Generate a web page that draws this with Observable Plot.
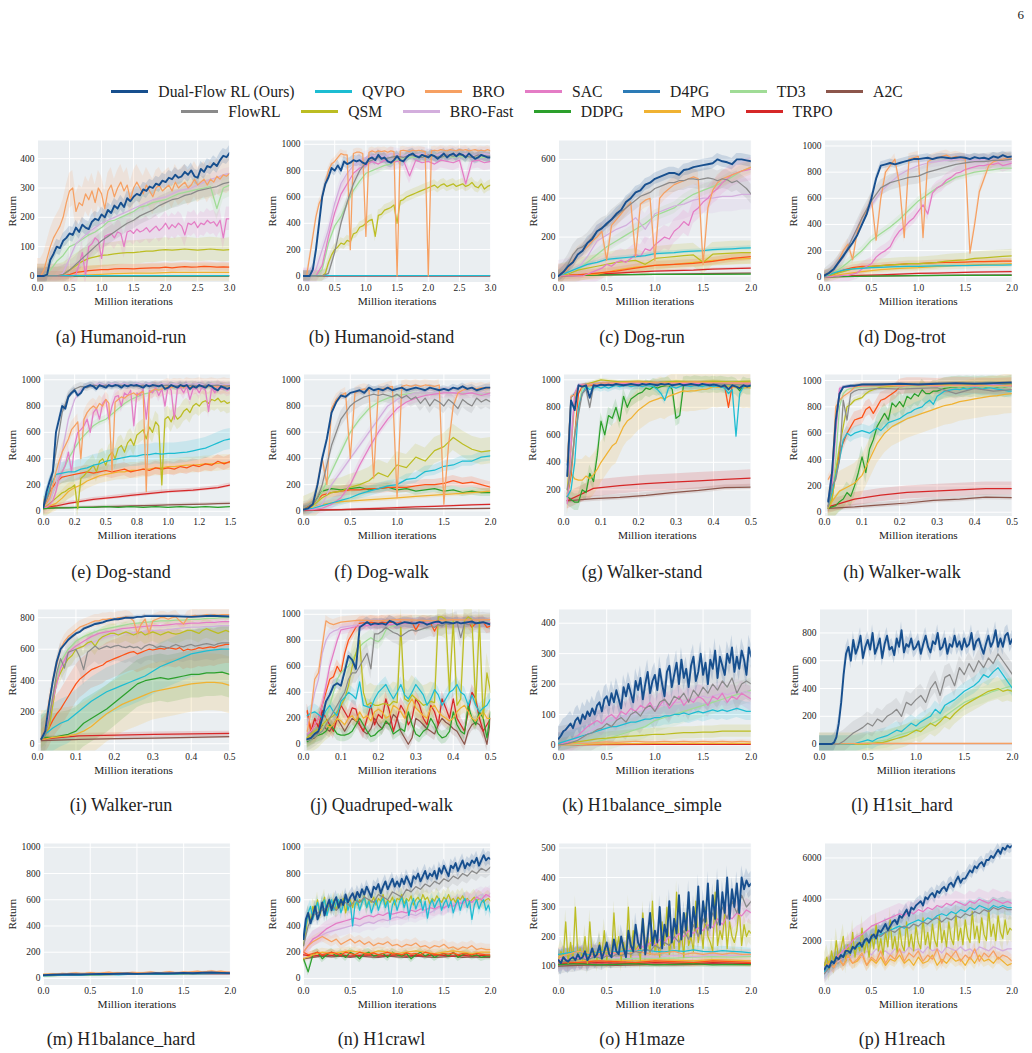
<!DOCTYPE html>
<html>
<head>
<meta charset="utf-8">
<script src="https://cdn.jsdelivr.net/npm/d3@7"></script>
<script src="https://cdn.jsdelivr.net/npm/@observablehq/plot@0.6"></script>
<style>
  body { margin: 0; background: #fff; }
  #page { position: relative; width: 1032px; height: 1053px; overflow: hidden; background: #fff;
          font-family: "Liberation Serif", "Times New Roman", serif; color: #222; }
  .legend-row { position: absolute; left: 0; width: 1014px; display: flex; justify-content: center;
                align-items: center; font-size: 15.7px; line-height: 1; }
  .legend-item { display: flex; align-items: center; margin: 0 10.25px; }
  .swatch { width: 37px; height: 3px; margin-right: 10px; }
  .panel { position: absolute; }
  .caption { position: absolute; font-size: 18px; line-height: 1; white-space: nowrap; transform: translate(-50%, -50%); }
  .pageno { position: absolute; right: 8px; top: 7px; font-size: 13px; }
</style>
</head>
<body>
<div id="page"><div class="pageno">6</div></div>
<script>
// ---- series identity -------------------------------------------------------
const KEYS = ["DF","QVPO","BRO","SAC","D4PG","TD3","A2C","FlowRL","QSM","BROF","DDPG","MPO","TRPO","OR"];
const NAMES = ["Dual-Flow RL (Ours)","QVPO","BRO","SAC","D4PG","TD3","A2C","FlowRL","QSM","BRO-Fast","DDPG","MPO","TRPO"];
const LEGEND_ROW1 = ["DF","QVPO","BRO","SAC","D4PG","TD3","A2C"];
const LEGEND_ROW2 = ["FlowRL","QSM","BROF","DDPG","MPO","TRPO"];

// ---- axis ticks --------------------------------------------------------------
const X_TICKS_3 = [0, 0.5, 1, 1.5, 2, 2.5, 3];
const X_LABELS_3 = ["0.0","0.5","1.0","1.5","2.0","2.5","3.0"];
const X_TICKS_2 = [0, 0.5, 1, 1.5, 2];
const X_LABELS_2 = ["0.0","0.5","1.0","1.5","2.0"];
const X_TICKS_15 = [0, 0.25, 0.5, 0.75, 1, 1.25, 1.5];
const X_LABELS_15 = ["0.0","0.2","0.5","0.8","1.0","1.2","1.5"];
const X_TICKS_05 = [0, 0.1, 0.2, 0.3, 0.4, 0.5];
const X_LABELS_05 = ["0.0","0.1","0.2","0.3","0.4","0.5"];
const Y_TICKS_400 = [0, 100, 200, 300, 400];
const Y_TICKS_600 = [0, 200, 400, 600];
const Y_TICKS_800 = [0, 200, 400, 600, 800];
const Y_TICKS_1000 = [0, 200, 400, 600, 800, 1000];
const Y_TICKS_WS = [200, 400, 600, 800, 1000];
const Y_TICKS_MAZE = [100, 200, 300, 400, 500];
const Y_TICKS_REACH = [2000, 4000, 6000];

// ---- evaluation returns: [series, std, [[xStart, xEnd, evenly spaced returns], ...]] ----
const humanoidRun = [
  ["DF", 25, [[0, 3, [0,0,0,5,55,75,100,95,120,130,145,140,165,150,175,165,160,185,195,190,210,200,225,215,240,230,250,235,265,255,270,280,275,295,290,305,300,315,310,325,320,335,330,345,335,340,355,345,360,340,335,365,355,375,370,385,375,395,410,405,420]]]],
  ["BRO", 60, [[0, 3, [0,0,20,60,100,130,150,170,200,250,290,300,220,250,240,280,260,290,250,300,280,230,290,310,270,300,320,290,310,260,300,320,300,280,310,290,270,300,310,290,300,310,290,320,300,310,320,300,310,330,310,320,330,310,330,320,340,330,345,340,350]]]],
  ["BROF", 20, [[0, 3, [0,0,0,0,10,60,110,130,150,165,180,190,200,210,220,230,240,250,260,265,270,280,290,295,300,310,320,330,335,345,350]]]],
  ["TD3", 40, [[0, 3, [0,0,20,50,70,100,110,125,140,150,165,185,190,200,210,220,235,240,250,255,260,270,280,285,290,295,300,305,230,300,310]]]],
  ["FlowRL", 30, [[0, 3, [0,0,0,0,5,20,40,60,80,100,120,135,150,165,180,190,205,215,225,240,250,260,265,275,280,290,295,300,305,315,320]]]],
  ["SAC", 40, [[0, 3, [0,0,0,0,0,0,0,0,0,0,0,0,5,40,80,0,100,110,130,120,60,135,140,145,130,150,145,100,150,155,145,160,150,155,165,150,160,170,155,165,180,160,175,165,180,170,140,180,175,185,165,180,175,190,180,185,170,190,130,195,195]]]],
  ["QSM", 40, [[0, 3, [0,0,0,0,5,20,35,50,60,65,70,72,75,78,80,80,82,85,85,88,90,88,90,92,90,88,90,92,90,88,90]]]],
  ["OR", 15, [[0, 3, [0,0,0,0,0,5,12,15,18,20,22,22,24,25,25,24,26,27,28,28,30,28,30,32,30,31,33,32,30,31,30]]]],
  ["MPO", 30, [[0, 3, [0,0,2,5,8,10,10,12,12,12,12]]]],
  ["TRPO", 0, [[0, 3, [0,0]]]],
  ["A2C", 0, [[0, 3, [0,0]]]],
  ["DDPG", 0, [[0, 3, [0,0]]]],
  ["QVPO", 0, [[0, 3, [1,1]]]]
];

const humanoidStand = [
  ["BRO", 30, [[0, 3, [0,0,150,300,450,550,600,700,800,850,870,900,930,920,920,200,930,940,940,930,300,940,950,940,950,945,950,940,950,945,0,950,955,950,945,955,950,955,950,945,0,950,955,950,960,955,950,960,955,950,960,955,960,950,955,960,950,955,950,960,950]]]],
  ["DF", 40, [[0, 3, [0,0,0,50,200,400,600,700,750,820,800,840,800,870,850,860,880,870,880,860,850,890,900,880,920,890,900,870,860,880,910,880,870,900,920,930,910,900,920,910,900,920,910,890,910,930,900,920,930,910,930,920,900,930,910,890,900,920,910,900,900]]]],
  ["BROF", 50, [[0, 3, [0,0,50,200,350,550,700,780,840,880,900,910,920,900,930,920,910,930,920,930,920,910,930,920,930,920,930,910,920,930,920]]]],
  ["SAC", 60, [[0, 3, [0,0,0,80,300,480,620,700,780,820,840,870,850,880,860,870,880,760,880,860,870,850,880,870,860,880,700,870,880,860,870]]]],
  ["FlowRL", 40, [[0, 3, [0,0,0,0,20,180,400,560,700,800,860,880,900,890,900,910,900,920,910,900,920,910,900,920,910,920,910,900,920,910,910]]]],
  ["TD3", 40, [[0, 3, [0,0,0,50,250,380,450,550,650,720,780,800,820,840,850,880,890,900,900,910,900,910,900,910,900,910,900,910,900,900,900]]]],
  ["QSM", 40, [[0, 3, [0,0,0,0,0,0,0,20,100,160,200,220,250,240,270,260,320,330,370,380,400,420,430,300,460,470,500,510,520,540,400,570,580,600,610,620,630,640,650,660,670,680,690,670,690,700,680,690,700,680,690,700,680,690,710,680,670,700,660,680,690]]]],
  ["A2C", 0, [[0, 3, [0,0]]]],
  ["TRPO", 0, [[0, 3, [0,0]]]],
  ["QVPO", 0, [[0, 3, [2,2]]]]
];

const dogRun = [
  ["DF", 30, [[0, 2, [0,20,50,70,110,130,170,190,230,245,270,290,320,340,380,400,430,440,470,480,500,510,520,530,530,520,545,550,560,565,570,575,580,600,590,585,575,600,600,595,590]]]],
  ["FlowRL", 50, [[0, 2, [0,20,60,110,140,150,170,200,230,250,260,290,310,330,350,370,390,410,420,430,450,460,470,480,480,490,490,500,500,495,500,505,500,490,500,495,480,490,470,450,420]]]],
  ["BRO", 40, [[0, 2, [0,15,40,80,110,130,150,180,200,230,80,260,290,320,350,380,100,370,390,400,80,400,430,450,470,480,490,500,510,500,60,350,440,480,500,510,520,530,540,550,560]]]],
  ["TD3", 30, [[0, 2, [0,10,30,70,110,150,180,210,240,270,310,330,350,390,420,440,460,480,510,540,560]]]],
  ["BROF", 80, [[0, 2, [0,10,40,100,180,210,240,260,300,240,320,340,360,370,390,400,400,410,410,420,420]]]],
  ["SAC", 60, [[0, 2, [0,0,0,0,0,0,10,20,30,40,60,50,70,80,70,90,110,100,140,130,160,180,200,190,230,250,280,260,330,350,380,400,430,450,480,500,520,530,540,545,550]]]],
  ["QVPO", 10, [[0, 2, [0,20,40,60,70,85,90,95,100,105,115,118,120,125,128,130,135,138,140,143,145]]]],
  ["QSM", 60, [[0, 2, [0,10,30,40,50,60,70,75,80,60,90,95,100,105,108,70,112,115,118,120,120]]]],
  ["MPO", 30, [[0, 2, [0,5,10,30,45,55,60,70,80,85,90]]]],
  ["OR", 20, [[0, 2, [0,5,15,25,40,55,60,65,75,90,100]]]],
  ["TRPO", 5, [[0, 2, [0,5,10,15,20,25,28,30,35,38,40]]]],
  ["A2C", 3, [[0, 2, [0,5,8,12,15]]]],
  ["DDPG", 3, [[0, 2, [0,5,8,8,10]]]]
];

const dogTrot = [
  ["DF", 30, [[0, 2, [10,30,60,110,160,210,260,320,400,480,600,750,850,860,870,860,870,880,890,900,900,905,910,900,910,915,910,905,910,915,910,900,915,905,910,900,920,910,930,915,920]]]],
  ["BRO", 40, [[0, 2, [10,20,60,120,200,250,130,350,450,500,600,280,600,800,850,900,700,300,900,910,920,300,880,900,910,920,930,910,920,910,900,180,400,650,750,850,880,890,900,910,900]]]],
  ["BROF", 40, [[0, 2, [0,60,150,300,450,550,650,720,780,820,850,870,880,890,900,900,890,900,890,880,880]]]],
  ["FlowRL", 60, [[0, 2, [0,60,150,300,450,580,680,720,740,760,770,800,820,840,860,870,880,880,890,890,900]]]],
  ["TD3", 30, [[0, 2, [0,30,80,140,200,280,330,380,440,510,580,630,680,720,760,780,800,810,820,830,830]]]],
  ["SAC", 50, [[0, 2, [0,0,5,5,10,10,20,30,60,80,100,150,180,200,230,300,350,380,420,450,500,550,480,640,680,700,740,760,790,800,820,830,840,850,850,860,860,870,850,860,870]]]],
  ["OR", 20, [[0, 2, [0,20,50,70,80,80,85,90,95,100,100,105,108,110,110,112,115,115,118,120,120]]]],
  ["QSM", 50, [[0, 2, [0,20,40,60,70,80,85,90,95,100,100,105,110,120,125,130,140,145,150,155,160]]]],
  ["QVPO", 10, [[0, 2, [0,30,50,60,65,70,72,75,78,80,80,82,83,84,85,86,87,88,88,89,90]]]],
  ["MPO", 30, [[0, 2, [0,20,40,55,65,70,80,85,90,95,100]]]],
  ["TRPO", 5, [[0, 2, [0,5,10,15,20,25,28,32,35,38,40]]]],
  ["A2C", 3, [[0, 2, [0,5,8,12,15]]]],
  ["DDPG", 3, [[0, 2, [0,5,8,10,10]]]]
];

const dogStand = [
  ["DF", 25, [[0, 1.5, [30,150,230,300,600,700,800,780,870,900,920,880,900,940,950,960,950,930,960,950,940,960,950,960,955,940,960,950,960,955,960,950,940,960,950,960,955,950,960,930,940,960,950,940,960,950,960,930,950,940,960,950,940,960,950,930,920,950,940,930,940]]]],
  ["FlowRL", 30, [[0, 1.5, [30,150,450,750,880,930,950,940,960,950,960,950,960,955,960,950,960,950,960,955,960,950,960,955,960,950,960,955,960,950,955]]]],
  ["BROF", 20, [[0, 1.5, [30,80,200,450,700,850,920,950,960,970,960,970,965,970,960,970,965,970,960,970,965,970,960,970,965,970,960,970,965,960,965]]]],
  ["BRO", 60, [[0, 1.5, [30,60,100,200,300,380,450,500,550,620,650,680,400,700,750,780,800,780,820,800,850,820,300,830,850,870,860,880,890,900,880,900,910,150,900,920,930,920,930,940,950,940,950,945,950,940,955,950,945,950,955,950,945,950,955,950,945,950,955,950,950]]]],
  ["SAC", 50, [[0, 1.5, [30,30,50,80,150,250,300,350,450,300,500,600,620,650,700,600,750,780,700,820,850,700,800,870,880,800,900,880,920,650,900,880,930,700,920,900,940,880,930,800,950,920,700,930,940,900,950,850,930,940,900,950,920,760,940,900,950,930,940,920,930]]]],
  ["TD3", 30, [[0, 1.5, [30,80,200,300,400,480,550,600,650,680,700,740,780,820,850,870,890,900,920,930,950,950,945,950,955,950,945,950,955,950,950]]]],
  ["QSM", 80, [[0, 1.5, [30,40,60,80,100,120,140,150,170,180,200,20,250,270,300,320,350,300,380,400,350,420,450,400,480,500,450,520,550,500,580,600,620,550,640,600,680,650,200,700,720,680,740,700,720,760,780,750,800,820,800,830,840,820,850,840,860,830,840,820,830]]]],
  ["QVPO", 80, [[0, 1.5, [30,180,280,290,300,300,320,330,350,360,380,390,400,410,420,420,430,430,440,435,440,440,445,450,460,470,480,500,520,540,550]]]],
  ["OR", 50, [[0, 1.5, [30,150,220,260,270,280,290,300,290,300,310,300,310,320,300,310,320,310,330,320,330,320,340,330,350,340,360,350,380,360,380]]]],
  ["MPO", 60, [[0, 1.5, [30,40,60,100,150,180,200,230,250,270,280,290,300,300,310,310,320,320,330,330,340,340,345,350,350,355,360,360,365,370,370]]]],
  ["TRPO", 15, [[0, 1.5, [30,40,60,75,90,100,110,120,130,140,150,155,160,170,180,200]]]],
  ["A2C", 10, [[0, 1.5, [20,25,28,30,32,35,38,40,42,45,48,50,52,55,58,60]]]],
  ["DDPG", 5, [[0, 1.5, [20,25,25,30,30,35,30,35,30,35,30,35,30,35,30,35]]]]
];

const dogWalk = [
  ["DF", 25, [[0, 2, [10,20,50,200,400,550,750,830,880,870,900,910,920,900,940,920,930,920,940,920,930,940,920,930,940,930,920,940,930,920,930,920,940,930,950,930,940,920,930,940,940]]]],
  ["BRO", 40, [[0, 2, [10,20,50,200,400,200,780,850,880,900,400,900,920,930,920,250,920,930,940,950,100,950,960,950,960,950,960,955,950,960,50,500,800,900,920,930,940,930,940,930,940]]]],
  ["FlowRL", 60, [[0, 2, [10,20,50,100,200,350,500,600,700,750,800,830,850,870,880,890,880,890,880,870,890,860,880,850,870,820,860,800,850,830,800,850,820,780,850,820,800,860,830,850,830]]]],
  ["TD3", 30, [[0, 2, [10,20,150,300,450,600,700,780,830,860,880,890,900,900,900,910,900,900,900,890,900]]]],
  ["BROF", 30, [[0, 2, [10,20,50,200,300,400,500,600,700,800,850,880,900,900,900,910,900,910,900,900,880]]]],
  ["SAC", 40, [[0, 2, [10,10,20,50,100,200,350,480,600,700,780,830,860,880,890,900,900,890,900,880,900]]]],
  ["QSM", 100, [[0, 2, [10,40,100,140,150,180,200,230,290,260,350,330,410,380,460,490,560,510,470,450,460]]]],
  ["QVPO", 40, [[0, 2, [10,20,40,60,80,100,130,150,170,190,200,240,250,300,310,340,350,380,380,410,420]]]],
  ["OR", 40, [[0, 2, [10,50,120,140,150,160,160,170,170,180,180,180,190,200,200,210,230,210,220,200,180]]]],
  ["DDPG", 30, [[0, 2, [10,50,150,170,160,170,180,160,170,180,160,170,150,160,170,150,160,140,150,140,140]]]],
  ["MPO", 20, [[0, 2, [10,50,70,80,90,100,110,120,130,140,150]]]],
  ["TRPO", 5, [[0, 2, [5,8,10,15,20,25,30,35,40,45,50]]]],
  ["A2C", 3, [[0, 2, [5,6,8,10,12,14,15,16,17,18,20]]]]
];

const walkerStand = [
  ["DF", 15, [[0.01, 0.5, [300,850,780,960,950,960,870,960,955,965,960,965,960,970,965,960,965,970,965,960,970,965,970,965,960,970,965,970,960,965,970,960,965,970,965,960,970,965,960,965,960,950,960,930,960,950,940,960,950,960]]]],
  ["D4PG", 10, [[0.01, 0.05, [380,870,900,950,960]], [0.1, 0.5, [970,975,970,965,975,970,965,970,975]]]],
  ["BRO", 10, [[0.01, 0.05, [400,880,890,950,960]], [0.1, 0.5, [975,980,985,975,980,985,980,975,980]]]],
  ["OR", 20, [[0.01, 0.05, [150,300,600,900,950]], [0.1, 0.42, [965,970,960,970,965,960,970,965,960]], [0.43, 0.5, [950,800,960,965,970,960,965,960]]]],
  ["SAC", 10, [[0.01, 0.05, [100,500,900,960,965]], [0.1, 0.5, [970,975,970,975,970,975,970,975,970]]]],
  ["QSM", 10, [[0.01, 0.05, [200,500,850,950,960]], [0.1, 0.5, [1000,985,990,980,990,985,990,985,990]]]],
  ["TD3", 10, [[0.01, 0.05, [150,350,600,800,940]], [0.1, 0.5, [960,965,960,965,960,965,960,965,960]]]],
  ["FlowRL", 30, [[0.01, 0.1, [200,350,600,750,900,930,800,950,960,960]], [0.15, 0.5, [965,960,970,965,960,970,965,960]]]],
  ["BROF", 10, [[0.01, 0.05, [300,600,900,950,960]], [0.1, 0.5, [970,975,970,975,970,975,970,975,970]]]],
  ["QVPO", 30, [[0.01, 0.5, [150,200,400,800,900,950,930,940,950,940,950,940,950,960,950,955,960,950,955,960,950,960,955,950,930,900,850,940,950,940,950,960,955,950,960,955,950,960,955,950,955,950,940,900,930,590,900,950,955,960]]]],
  ["DDPG", 60, [[0.01, 0.5, [150,130,110,110,200,180,320,260,450,700,600,740,720,800,700,880,800,860,880,900,910,940,930,950,940,950,955,960,930,720,740,960,965,960,970,965,960,965,960,965,960,965,960,955,960,950,920,960,950,950]]]],
  ["MPO", 150, [[0.01, 0.5, [170,320,280,270,270,300,280,310,350,400,440,480,520,540,600,660,700,720,750,780,800,820,840,850,860,870,860,880,890,900,910,920,915,920,920,925,930,930,940,950,945,950,950,955,950,945,950,940,945,940]]]],
  ["TRPO", 60, [[0.01, 0.5, [120,210,230,245,255,265,275,285]]]],
  ["A2C", 20, [[0.01, 0.5, [120,135,145,160,180,195,215,220]]]]
];

const walkerWalk = [
  ["DF", 10, [[0.01, 0.1, [80,300,700,900,950,955,960,960,965,970]], [0.15, 0.5, [970,975,970,975,980,975,980,985]]]],
  ["BRO", 30, [[0.01, 0.1, [250,300,800,850,880,900,920,950,955,960]], [0.15, 0.5, [960,965,960,965,960,965,960,965]]]],
  ["SAC", 10, [[0.01, 0.05, [50,200,600,940,950]], [0.1, 0.5, [960,965,960,965,960,965,960,965,960]]]],
  ["D4PG", 10, [[0.01, 0.05, [90,250,650,900,950]], [0.1, 0.5, [965,970,965,970,965,970,965,970,975]]]],
  ["FlowRL", 40, [[0.01, 0.1, [40,200,250,400,850,700,900,920,930,930]], [0.15, 0.5, [940,935,940,945,900,940,920,930]]]],
  ["QSM", 20, [[0.01, 0.15, [40,100,300,500,650,800,820,850,860,870,900,920,930,940,950]], [0.2, 0.5, [960,970,965,975,970,980,975]]]],
  ["TD3", 20, [[0.01, 0.07, [40,100,400,800,900,930,940]], [0.1, 0.5, [950,955,950,955,950,955,950,955,950]]]],
  ["BROF", 10, [[0.01, 0.05, [100,300,700,930,950]], [0.1, 0.5, [960,965,960,965,960,965,960,965,960]]]],
  ["OR", 60, [[0.01, 0.22, [50,100,300,450,530,600,650,700,710,720,780,800,750,800,850,860,880,900,920,950,955,960]], [0.25, 0.5, [960,955,965,960,955,960]]]],
  ["QVPO", 50, [[0.01, 0.5, [50,150,280,400,550,600,580,600,610,620,610,600,620,640,620,650,680,690,700,710,730,750,760,780,790,800,830,850,820,880,900,920,925,930,935,930,940,935,940,945,940,935,940,945,940,935,930,925,920,920]]]],
  ["DDPG", 80, [[0.01, 0.5, [30,40,50,80,100,150,120,200,300,420,300,480,550,650,700,750,700,830,800,840,800,880,860,900,880,930,900,900,920,920,930,940,945,950,950,955,950,955,950,955,950,955,950,955,955,950,955,950,955,960]]]],
  ["MPO", 150, [[0.01, 0.01, [30]], [0.02, 0.5, [80,160,190,220,280,400,520,600,650,680,710,730,750,770,790,810,820,840,850,860,870,880,885,895,900]]]],
  ["TRPO", 50, [[0.01, 0.5, [40,100,130,150,160,170,180,180]]]],
  ["A2C", 20, [[0.01, 0.5, [30,40,55,70,90,100,115,110]]]]
];

const walkerRun = [
  ["DF", 10, [[0.01, 0.3, [30,80,250,400,520,600,630,660,680,700,710,730,740,750,760,765,770,780,785,790,790,795,800,800,800,805,805,810,810,810]], [0.35, 0.5, [810,805,812,808]]]],
  ["BRO", 40, [[0.01, 0.5, [30,100,270,400,500,600,650,680,700,720,740,750,760,770,780,780,790,790,795,790,800,800,805,800,780,700,760,790,700,780,790,800,800,790,800,805,780,760,800,810,815,810,815,820,815,820,815,820,820,820]]]],
  ["TD3", 20, [[0.01, 0.01, [30]], [0.02, 0.5, [60,300,520,600,650,680,700,720,730,740,750,760,765,770,775,780,780,785,785,790,790,795,795,800,800]]]],
  ["SAC", 20, [[0.01, 0.01, [30]], [0.02, 0.5, [60,280,480,580,620,650,680,700,710,720,730,735,740,745,750,750,755,760,760,765,765,770,770,775,775]]]],
  ["BROF", 20, [[0.01, 0.01, [30]], [0.02, 0.5, [60,280,480,560,600,620,640,660,680,690,700,700,710,715,720,720,725,730,735,740,740,745,745,750,750]]]],
  ["QSM", 60, [[0.01, 0.5, [30,50,100,250,400,450,500,540,560,600,610,620,640,650,620,660,680,690,700,700,690,700,710,700,690,700,710,690,700,710,700,690,700,710,700,695,700,710,720,720,710,700,720,730,720,710,700,710,720,710]]]],
  ["FlowRL", 100, [[0.01, 0.5, [30,50,150,300,450,540,480,580,590,600,550,470,580,600,620,600,610,620,610,620,625,615,610,620,610,615,600,620,630,625,610,620,615,605,620,630,620,615,625,630,620,625,630,635,630,625,635,640,640,640]]]],
  ["OR", 120, [[0.01, 0.5, [30,60,100,150,190,220,260,300,340,380,410,430,450,470,480,490,500,520,530,540,550,560,570,580,585,570,580,590,600,595,600,605,600,610,605,600,610,590,600,595,600,610,605,610,615,610,620,625,630,630]]]],
  ["QVPO", 150, [[0.01, 0.01, [30]], [0.02, 0.5, [60,100,130,150,190,230,270,300,330,350,370,390,410,430,460,490,510,530,550,570,580,590,595,600,600]]]],
  ["DDPG", 150, [[0.01, 0.01, [30]], [0.02, 0.5, [40,40,50,60,80,130,160,190,220,260,300,340,380,400,410,420,410,420,430,440,440,450,450,455,440]]]],
  ["MPO", 180, [[0.01, 0.01, [30]], [0.02, 0.5, [30,40,45,50,60,80,110,150,190,220,250,270,290,310,330,340,350,360,370,380,385,390,390,385,370]]]],
  ["TRPO", 15, [[0.01, 0.5, [30,50,55,60,62,65]]]],
  ["A2C", 10, [[0.01, 0.5, [20,28,32,36,40,45]]]]
];

const quadrupedWalk = [
  ["BRO", 40, [[0.01, 0.08, [100,250,500,550,750,950,930,920]], [0.1, 0.5, [940,955,950,960,955,950,960,955,960]]]],
  ["BROF", 40, [[0.01, 0.1, [150,250,400,500,700,800,850,870,880,900]], [0.15, 0.5, [920,925,930,935,930,935,940,935]]]],
  ["SAC", 40, [[0.01, 0.1, [80,100,150,200,300,450,600,700,800,880]], [0.15, 0.5, [910,920,925,930,935,930,935,935]]]],
  ["TD3", 60, [[0.01, 0.25, [30,40,60,80,100,200,300,400,500,550,580,600,650,700,750,780,800,820,800,790,820,880,900,910,920]], [0.3, 0.5, [930,935,940,935,940]]]],
  ["OR", 50, [[0.01, 0.5, [260,100,150,200,300,400,500,520,600,550,700,800,850,900,930,935,930,940,935,930,940,935,940,930,935,940,930,935,940,880,930,940,935,930,870,930,935,940,930,935,940,935,930,940,900,930,935,940,900,910]]]],
  ["DF", 40, [[0.01, 0.5, [40,50,80,100,200,330,380,450,470,450,560,680,650,580,900,920,940,920,930,925,930,920,950,940,920,930,940,935,930,930,940,935,920,930,940,945,930,940,935,930,940,930,935,940,945,930,935,940,930,920]]]],
  ["FlowRL", 80, [[0.01, 0.5, [30,40,60,80,100,150,200,250,300,350,400,500,550,550,600,650,700,580,850,850,870,900,880,860,850,830,850,870,880,870,880,890,900,910,900,920,910,930,920,930,940,820,930,920,930,940,930,935,930,930]]]],
  ["QSM", 150, [[0.01, 0.5, [50,80,100,120,150,180,200,220,250,300,350,450,600,700,800,400,300,320,300,300,310,310,300,330,320,900,350,330,380,350,330,300,310,330,320,980,980,960,400,950,300,350,950,980,960,300,950,200,550,400]]]],
  ["QVPO", 60, [[0.01, 0.5, [220,240,250,230,200,260,300,250,220,330,360,400,380,350,480,300,290,280,350,400,430,460,400,350,400,460,380,350,400,460,420,380,300,350,420,380,300,350,400,420,460,400,380,300,380,300,250,280,300,350]]]],
  ["TRPO", 60, [[0.01, 0.5, [250,100,200,130,260,200,150,100,200,300,250,200,280,270,150,100,200,300,150,230,200,350,250,100,200,300,250,150,200,350,300,200,150,300,250,150,350,280,200,350,200,150,100,250,400,350,200,100,150,200]]]],
  ["A2C", 50, [[0.01, 0.5, [30,40,50,100,150,120,100,150,200,150,100,150,200,180,150,100,80,120,200,150,120,170,150,230,200,100,50,0,50,200,180,150,120,100,80,150,200,170,150,120,100,50,0,100,150,170,150,100,0,200]]]],
  ["DDPG", 50, [[0.01, 0.5, [20,40,60,70,80,100,150,120,80,70,70,80,100,150,200,150,100,60,70,100,120,180,150,80,100,120,100,250,150,80,60,100,120,200,150,80,50,60,100,250,150,100,80,300,200,150,250,200,50,250]]]],
  ["MPO", 60, [[0.01, 0.5, [50,60,80,100,120,150,130,150,200,180,150,200,220,180,250,200,220,180,250,270,250,200,220,300,280,250,200,300,350,280,250,220,200,280,300,250,220,200,180,200,250,280,300,250,200,180,220,250,200,200]]]]
];

const h1BalanceSimple = [
  ["DF", 40, [[0, 2, [20,30,45,50,60,70,55,80,90,70,100,85,110,95,120,100,130,140,110,150,160,130,170,140,180,150,120,190,160,200,170,140,210,180,220,150,200,240,170,210,230,180,250,200,160,240,260,190,230,270,200,280,220,250,190,260,290,210,240,300,230,270,200,280,250,310,220,290,260,230,300,270,320,240,290,250,310,280,230,320,290]]]],
  ["FlowRL", 60, [[0, 2, [0,2,5,10,15,25,35,40,50,55,70,60,80,90,75,100,110,95,120,130,110,140,150,130,160,150,170,140,180,160,190,170,200,180,210,190,220,170,200,210,200]]]],
  ["SAC", 40, [[0, 2, [0,5,10,20,30,45,60,70,80,70,90,100,85,110,100,120,110,130,120,140,110,130,150,120,140,160,130,150,140,160,150,130,160,150,170,140,160,150,170,160,150]]]],
  ["QVPO", 30, [[0, 2, [5,10,15,20,25,30,35,40,45,50,55,60,60,65,70,75,75,80,85,85,90,90,95,95,100,100,105,100,105,110,105,110,115,110,115,110,115,120,115,110,110]]]],
  ["BROF", 40, [[0, 2, [0,2,5,10,20,30,40,50,60,70,75,80,85,90,95,100,105,110,115,120,125,130,130,135,140,140,145,150,150,155,160,155,160,165,170,165,170,175,170,175,170]]]],
  ["QSM", 20, [[0, 2, [0,5,10,15,20,22,25,28,30,32,35,35,38,40,40,42,42,45,45,45,45]]]],
  ["TD3", 40, [[0, 2, [0,0,2,5,10,20,30,40,50,60,80,90,100,110,120,130,140,150,160,170,180]]]],
  ["BRO", 5, [[0, 2, [0,2,5,5,8,10,8,10,12,10,10,12,10,12,10,12,10,12,10,12,10]]]],
  ["MPO", 3, [[0, 2, [0,3,5,5,5]]]],
  ["TRPO", 1, [[0, 2, [0,1,2,2,2]]]]
];

const h1SitHard = [
  ["DF", 60, [[0, 2, [0,0,0,0,0,0,10,50,150,300,500,650,700,600,750,650,700,780,620,700,750,680,800,650,700,760,620,720,780,680,700,640,760,700,820,660,720,700,760,680,700,740,650,720,780,700,660,740,720,800,680,700,760,650,720,700,780,700,740,680,760,700,720,800,680,740,760,700,650,720,780,700,740,820,700,760,700,780,800,720,760]]]],
  ["FlowRL", 80, [[0, 2, [0,0,0,0,0,20,50,80,100,120,150,130,180,160,200,220,250,200,300,280,320,350,300,400,450,350,480,500,420,550,500,580,520,600,550,620,580,650,600,550,500]]]],
  ["QVPO", 60, [[0, 2, [0,0,0,0,0,0,0,0,10,20,30,20,40,50,60,80,100,90,120,150,130,160,180,200,250,220,280,300,320,350,380,400,420,450,500,480,520,550,500,450,400]]]],
  ["QSM", 80, [[0, 2, [0,0,0,0,0,0,0,0,0,0,0,5,10,10,20,30,40,50,60,80,100,90,120,150,130,160,200,180,220,250,280,300,320,340,360,380,390,400,380,390,380]]]],
  ["TD3", 60, [[0, 2, [0,0,0,0,0,10,20,30,60,80,100,130,160,200,250,300,330,350,380,400,420]]]],
  ["BRO", 3, [[0, 2, [0,5,5,5,5]]]],
  ["A2C", 0, [[0, 2, [3,3]]]]
];

const h1BalanceHard = [
  ["BRO", 5, [[0, 2, [30,32,35,33,38,36,40,42,38,40,45,42,40,44,48,42,45,40,43,47,45,42,46,50,45,43,48,52,47,45,50,48,52,55,50,53,58,52,55,50,48]]]],
  ["DF", 5, [[0, 2, [25,28,30,32,30,33,35,34,36,38,35,37,40,38,40,42,40,43,45,42,40]]]],
  ["FlowRL", 5, [[0, 2, [25,27,30,28,32,30,33,35,33,35,37,35,38,40,37,40,42,40,42,45,42]]]],
  ["QVPO", 5, [[0, 2, [20,22,25,24,26,28,27,30,28,30,32,30,33,35,32,34,36,35,37,38,36]]]],
  ["SAC", 5, [[0, 2, [22,25,28,30,28,32,35,33,36,38,35,38,40,38,42,44,40,43,45,47,45]]]],
  ["QSM", 5, [[0, 2, [20,24,26,28,30,32,33,35,36,38,40]]]],
  ["MPO", 5, [[0, 2, [30,32,35,36,38,40,42,43,44,45,45]]]],
  ["TRPO", 3, [[0, 2, [25,26,28,29,30,31,32,33,34,35,35]]]],
  ["BROF", 5, [[0, 2, [25,28,30,32,34,36,38,40,42,44,45]]]]
];

const h1Crawl = [
  ["DF", 50, [[0, 2, [300,450,500,420,480,550,450,500,580,480,550,600,520,580,620,540,600,560,640,580,620,650,600,660,620,680,640,700,660,620,700,680,720,650,700,740,680,720,760,700,740,700,760,720,780,740,700,780,760,800,740,780,820,760,800,780,820,760,840,800,860,820,780,860,840,880,820,860,900,840,880,860,900,880,920,860,900,940,900,920,910]]]],
  ["FlowRL", 60, [[0, 2, [250,400,480,500,520,540,560,520,560,580,550,600,580,620,600,580,640,620,600,660,640,620,680,660,700,680,720,700,740,720,760,740,780,760,800,780,820,800,840,820,850]]]],
  ["QVPO", 50, [[0, 2, [300,400,500,550,450,520,580,500,560,600,480,550,600,520,580,600,500,560,620,520,580,400,560,600,520,580,620,540,590,500,560,600,520,580,610,540,590,450,560,600,520,580,620,540,600,480,560,610,530,580,600,520,590,460,560,600,540,580,610,520,570,600,540,590,500,560,600,520,580,610,540,590,450,560,600,530,580,600,520,560,500]]]],
  ["QSM", 60, [[0, 2, [250,350,500,450,550,520,600,480,560,620,500,580,540,600,520,590,560,610,500,580,600,540,620,560,600,580,630,540,600,580,620,560,610,590,640,560,600,580,620,560,610,600,640,570,610,590,630,560,600,620,580,640,600,620,570,610,590,630,600,580,620,600,640,590,610,580,620,600,630,590,610,580,600,620,590,610,600,580,600,610,590]]]],
  ["SAC", 60, [[0, 2, [200,250,300,320,350,380,400,420,430,440,450,460,450,470,480,470,490,480,500,490,500,510,500,520,510,530,520,540,530,550,540,560,550,580,570,600,580,620,600,640,620]]]],
  ["BROF", 60, [[0, 2, [200,250,300,320,330,350,360,370,380,390,400,410,400,420,430,420,440,450,440,460,470,460,480,490,480,500,510,500,520,540,530,560,570,560,590,600,580,620,640,620,650]]]],
  ["BRO", 40, [[0, 2, [200,250,280,300,320,300,280,300,260,280,300,270,290,260,280,250,270,260,280,250,260,240,260,250,270,240,250,230,250,240,260,230,240,220,240,230,250,220,230,220,220]]]],
  ["OR", 20, [[0, 2, [200,180,190,200,180,190,200,190,180,200,190,180,200,190,185,195,180,190,200,185,190,180,195,185,190,180,200,190,185,180,190,185,195,180,190,185,180,190,185,180,180]]]],
  ["TRPO", 10, [[0, 2, [180,170,180,175,180,170,175,180,170,175,180,170,175,170,180,175,170,175,170,175,170]]]],
  ["DDPG", 30, [[0, 2, [150,50,180,200,150,180,200,170,190,160,200,180,150,190,200,170,180,190,160,200,180,170,190,150,180,200,170,190,160,180,190,170,200,160,180,190,170,180,160,170,170]]]],
  ["MPO", 30, [[0, 2, [150,180,200,190,200,210,200,190,210,200,190,200,210,200,190,200,210,200,190,200,200]]]],
  ["A2C", 10, [[0, 2, [150,160,170,165,170,160,170,165,160,170,165,160,170,165,160,165,170,160,165,160,160]]]]
];

const h1Maze = [
  ["DF", 40, [[0, 2, [120,110,130,120,115,125,130,120,140,125,130,150,120,135,160,130,140,170,125,150,180,140,130,190,150,140,200,160,130,220,170,150,240,180,160,260,140,200,280,170,220,180,300,160,240,200,320,180,260,210,340,190,280,220,350,200,300,230,370,210,320,250,380,230,340,260,390,240,350,280,400,260,360,300,380,280,400,360,390,370,380]]]],
  ["QSM", 40, [[0, 2, [120,150,130,250,110,180,120,300,140,160,120,200,110,250,130,150,120,180,140,220,120,160,130,280,150,200,120,180,140,300,130,220,150,170,120,280,160,200,140,320,150,180,130,250,170,300,140,200,160,350,150,220,130,280,170,200,150,320,180,240,160,300,200,180,150,350,170,220,190,280,160,250,200,180,220,300,170,240,200,220,210]]]],
  ["FlowRL", 40, [[0, 2, [110,115,120,118,122,125,120,128,130,125,135,130,140,135,145,140,150,145,160,150,170,160,180,170,200,180,220,190,240,200,260,220,280,240,300,260,320,280,340,300,320]]]],
  ["SAC", 40, [[0, 2, [120,125,120,130,125,130,128,135,130,140,135,145,140,150,145,160,150,170,160,180,170,190,180,200,190,210,200,220,210,230,220,240,230,260,240,270,260,280,270,290,280]]]],
  ["QVPO", 15, [[0, 2, [140,145,150,140,145,150,148,152,150,155,150,148,152,150,155,150,148,152,150,148,145]]]],
  ["BRO", 15, [[0, 2, [130,140,150,145,140,150,145,140,150,145,140,145,150,140,145,140,145,140,145,140,140]]]],
  ["BROF", 15, [[0, 2, [125,128,130,128,132,130,135,132,138,135,140]]]],
  ["MPO", 20, [[0, 2, [120,118,122,120,118,122,120,118,122,120,118]]]],
  ["OR", 10, [[0, 2, [115,112,118,115,112,118,115,112,118,115,112]]]],
  ["TRPO", 10, [[0, 2, [110,108,112,110,108,112,110,108,112,110,108]]]],
  ["DDPG", 10, [[0, 2, [105,108,104,106,108,104,106,108,104,106,105]]]],
  ["A2C", 10, [[0, 2, [100,102,104,102,104,106,104,106,108,106,108]]]],
  ["TD3", 10, [[0, 2, [120,122,125,124,126,128,127,130,132,130,133]]]]
];

const h1Reach = [
  ["DF", 300, [[0, 2, [600,800,700,1000,900,1200,1100,1300,1200,1500,1500,1400,1700,1600,1800,1900,1700,2000,2100,1900,2200,2300,2100,2500,2400,2600,2800,2500,2700,2900,3000,2800,3200,3100,3300,3500,3200,3600,3500,3700,3800,3900,3700,4100,4000,4200,4300,4100,4400,4300,4500,4600,4400,4700,4800,4600,4900,5100,4800,5000,5000,5200,5400,5300,5600,5500,5700,5800,5600,5900,5900,6100,6000,6200,6400,6200,6500,6400,6600,6500,6600]]]],
  ["SAC", 500, [[0, 2, [500,800,1000,1300,1500,1700,2000,2200,2300,2500,2700,2800,2900,3000,3100,3200,3300,3200,3400,3300,3500,3400,3600,3500,3700,3600,3800,3700,3900,3800,3700,3900,3800,4000,3900,3800,4000,3900,3800,3900,3800]]]],
  ["FlowRL", 500, [[0, 2, [400,700,900,1100,1200,1400,1600,1800,1900,2000,2100,2300,2200,2400,2500,2400,2600,2700,2600,2800,2700,2900,2800,3000,3100,2900,3100,3000,3200,3100,3300,3200,3400,3300,3500,3400,3600,3500,3600,3500,3500]]]],
  ["QVPO", 400, [[0, 2, [500,800,1000,1100,1300,1400,1600,1700,1800,2000,2100,2200,2300,2400,2500,2600,2700,2600,2800,2900,3000,2900,3100,3000,3200,3300,3200,3400,3300,3500,3400,3600,3500,3700,3600,3500,3700,3600,3700,3600,3600]]]],
  ["QSM", 600, [[0, 2, [800,1200,600,1500,900,2000,1100,1600,2200,1000,1800,1300,2400,1200,1900,1500,2600,1400,2000,1200,2300,1600,2800,1500,2100,1300,2400,1700,3000,1600,2200,1400,2600,1800,1500,2900,1700,2300,1500,2700,1900,1600,3100,1800,2400,1600,2800,2000,1700,3200,1900,2500,1700,2900,2100,1800,3300,2000,2600,1800,3000,2200,1900,3400,2100,2700,1900,3100,2300,2000,3500,2200,2800,2000,3200,2400,2100,3000,2300,2600,2500]]]],
  ["BRO", 300, [[0, 2, [600,900,700,1200,800,1300,900,1100,1400,800,1200,1000,1500,900,1300,1100,1600,1000,1400,1200,1500,1000,1300,1100,1600,900,1400,1200,1500,1000,1300,1100,1600,1000,1400,1200,1500,1100,1300,1200,1000]]]],
  ["BROF", 400, [[0, 2, [500,800,900,1000,1200,1100,1300,1400,1200,1500,1300,1600,1400,1500,1300,1600,1500,1400,1700,1500,1600,1400,1700,1500,1600,1400,1700,1600,1500,1700,1500,1600,1400,1700,1600,1500,1700,1600,1500,1600,1600]]]],
  ["MPO", 300, [[0, 2, [800,1000,700,1100,800,1200,900,1000,1300,800,1100,900,1200,800,1100,1000,1300,900,1100,800,1200,900,1000,1300,800,1100,900,1200,1000,1100,800,1200,900,1300,1000,1100,900,1200,1000,800,900]]]]
];

// ---- styling -----------------------------------------------------------------
const COLORS = ["#174f8e","#1dbdd2","#f6a062","#e47cc5","#2c7bb6","#a0dc96","#8c564b","#8a8a8a","#bcbd22","#d3aedd","#2ca02c","#f0b232","#d62728","#fd5217"];
const DRAW_ORDER = ["A2C","TRPO","DDPG","MPO","D4PG","OR","TD3","BROF","QSM","SAC","QVPO","BRO","FlowRL","DF"];
const FONT = '"Liberation Serif", "Times New Roman", serif';
const BG = "#eaeef1";

// grid geometry (plot-area edges)
const COL_LEFT = [37.3, 297.7, 557.7, 818.7];
const COL_RIGHT = [229.5, 490.2, 750.5, 1011.7];
const ROW_TOP = [139.5, 374, 608.5, 843];
const PLOT_H = 141.5;
const CAPTION_X = [121, 381.5, 642, 902];
const CAPTION_Y = [336.7, 571.7, 804.5, 1038.5];

const PANELS = [
  {caption: "(a) Humanoid-run", data: humanoidRun, xMax: 3, xTicks: X_TICKS_3, xLabels: X_LABELS_3, yDomain: [-20.5, 462], yTicks: Y_TICKS_400},
  {caption: "(b) Humanoid-stand", data: humanoidStand, xMax: 3, xTicks: X_TICKS_3, xLabels: X_LABELS_3, yDomain: [-46, 1029], yTicks: Y_TICKS_1000},
  {caption: "(c) Dog-run", data: dogRun, xMax: 2, xTicks: X_TICKS_2, xLabels: X_LABELS_2, yDomain: [-31, 697], yTicks: Y_TICKS_600},
  {caption: "(d) Dog-trot", data: dogTrot, xMax: 2, xTicks: X_TICKS_2, xLabels: X_LABELS_2, yDomain: [-40, 1042], yTicks: Y_TICKS_1000},
  {caption: "(e) Dog-stand", data: dogStand, xMax: 1.5, xTicks: X_TICKS_15, xLabels: X_LABELS_15, yDomain: [-36, 1040], yTicks: Y_TICKS_1000},
  {caption: "(f) Dog-walk", data: dogWalk, xMax: 2, xTicks: X_TICKS_2, xLabels: X_LABELS_2, yDomain: [-39, 1040], yTicks: Y_TICKS_1000},
  {caption: "(g) Walker-stand", data: walkerStand, xMax: 0.5, xTicks: X_TICKS_05, xLabels: X_LABELS_05, yDomain: [9.5, 1038.5], yTicks: Y_TICKS_WS},
  {caption: "(h) Walker-walk", data: walkerWalk, xMax: 0.5, xTicks: X_TICKS_05, xLabels: X_LABELS_05, yDomain: [-28.6, 1045.6], yTicks: Y_TICKS_1000},
  {caption: "(i) Walker-run", data: walkerRun, xMax: 0.5, xTicks: X_TICKS_05, xLabels: X_LABELS_05, yDomain: [-46, 852], yTicks: Y_TICKS_800},
  {caption: "(j) Quadruped-walk", data: quadrupedWalk, xMax: 0.5, xTicks: X_TICKS_05, xLabels: X_LABELS_05, yDomain: [-51.5, 1037], yTicks: Y_TICKS_1000},
  {caption: "(k) H1balance_simple", data: h1BalanceSimple, xMax: 2, xTicks: X_TICKS_2, xLabels: X_LABELS_2, yDomain: [-20, 445], yTicks: Y_TICKS_400},
  {caption: "(l) H1sit_hard", data: h1SitHard, xMax: 2, xTicks: X_TICKS_2, xLabels: X_LABELS_2, yDomain: [-50, 969], yTicks: Y_TICKS_800},
  {caption: "(m) H1balance_hard", data: h1BalanceHard, xMax: 2, xTicks: X_TICKS_2, xLabels: X_LABELS_2, yDomain: [-50, 1029], yTicks: Y_TICKS_1000},
  {caption: "(n) H1crawl", data: h1Crawl, xMax: 2, xTicks: X_TICKS_2, xLabels: X_LABELS_2, yDomain: [-50, 1029], yTicks: Y_TICKS_1000},
  {caption: "(o) H1maze", data: h1Maze, xMax: 2, xTicks: X_TICKS_2, xLabels: X_LABELS_2, yDomain: [36, 515], yTicks: Y_TICKS_MAZE},
  {caption: "(p) H1reach", data: h1Reach, xMax: 2, xTicks: X_TICKS_2, xLabels: X_LABELS_2, yDomain: [-150, 6700], yTicks: Y_TICKS_REACH}
];

// Expand segments into one row per evaluation, with the std band around it.
function toRows(series) {
  const rows = [];
  for (const [key, sd, segments] of series) {
    for (const [x0, x1, vals] of segments) {
      const n = vals.length;
      vals.forEach((v, i) => {
        const x = n > 1 ? x0 + (x1 - x0) * i / (n - 1) : x0;
        rows.push({key, x, y: v, lo: v - sd, hi: v + sd});
      });
    }
  }
  const rank = k => DRAW_ORDER.indexOf(k);
  return rows.map((r, i) => ({...r, i})).sort((a, b) => rank(a.key) - rank(b.key) || a.i - b.i);
}

const page = document.getElementById("page");

// legend
function legendRow(keys, centerY) {
  const row = document.createElement("div");
  row.className = "legend-row";
  row.style.top = (centerY - 8) + "px";
  row.style.height = "16px";
  for (const k of keys) {
    const idx = KEYS.indexOf(k);
    const item = document.createElement("div");
    item.className = "legend-item";
    const sw = document.createElement("div");
    sw.className = "swatch";
    sw.style.background = COLORS[idx];
    const tx = document.createElement("span");
    tx.textContent = NAMES[idx];
    item.append(sw, tx);
    row.append(item);
  }
  page.append(row);
}
legendRow(LEGEND_ROW1, 92);
legendRow(LEGEND_ROW2, 111.5);

// panels
const ML = 46, MR = 4, MT = 4, MB = 30;
PANELS.forEach((cfg, p) => {
  const col = p % 4, row = Math.floor(p / 4);
  const wide = String(d3.max(cfg.yTicks)).length >= 4;
  const left = COL_LEFT[col] + (wide ? 5.3 : 0);
  const plotW = COL_RIGHT[col] - left;
  const rows = toRows(cfg.data);
  const fmtX = d => cfg.xLabels[cfg.xTicks.indexOf(d)];
  const chart = Plot.plot({
    width: plotW + ML + MR,
    height: PLOT_H + MT + MB,
    marginLeft: ML, marginRight: MR, marginTop: MT, marginBottom: MB,
    style: {fontFamily: FONT, fontSize: "9.5px", background: "transparent", color: "#222", overflow: "visible"},
    x: {domain: [0, cfg.xMax]},
    y: {domain: cfg.yDomain},
    color: {domain: KEYS, range: COLORS},
    marks: [
      Plot.frame({fill: BG, stroke: "none"}),
      Plot.gridX(cfg.xTicks, {stroke: "#ffffff", strokeOpacity: 1, strokeWidth: 1}),
      Plot.gridY(cfg.yTicks, {stroke: "#ffffff", strokeOpacity: 1, strokeWidth: 1}),
      Plot.areaY(rows, {x: "x", y1: "lo", y2: "hi", z: "key", fill: "key", fillOpacity: 0.16, clip: true}),
      Plot.lineY(rows.filter(d => d.key !== "DF"), {x: "x", y: "y", z: "key", stroke: "key", strokeWidth: 1.25, clip: true}),
      Plot.lineY(rows.filter(d => d.key === "DF"), {x: "x", y: "y", z: "key", stroke: "key", strokeWidth: 1.9, clip: true}),
      Plot.axisX(cfg.xTicks, {tickSize: 0, tickPadding: 2.5, tickFormat: fmtX, label: null}),
      Plot.axisY(cfg.yTicks, {tickSize: 0, tickPadding: 3, tickFormat: d3.format("d"), label: null}),
      Plot.text(["Million iterations"], {text: d => d, frameAnchor: "bottom", dy: 19.5, lineAnchor: "middle", fontSize: 11.3}),
      Plot.text(["Return"], {text: d => d, frameAnchor: "left", dx: wide ? -31 : -25, rotate: -90, lineAnchor: "middle", textAnchor: "middle", fontSize: 11.3})
    ]
  });
  const holder = document.createElement("div");
  holder.className = "panel";
  holder.style.left = (left - ML) + "px";
  holder.style.top = (ROW_TOP[row] - MT) + "px";
  holder.append(chart);
  page.append(holder);

  const cap = document.createElement("div");
  cap.className = "caption";
  cap.style.left = CAPTION_X[col] + "px";
  cap.style.top = CAPTION_Y[row] + "px";
  cap.textContent = cfg.caption;
  page.append(cap);
});
</script>
</body>
</html>
